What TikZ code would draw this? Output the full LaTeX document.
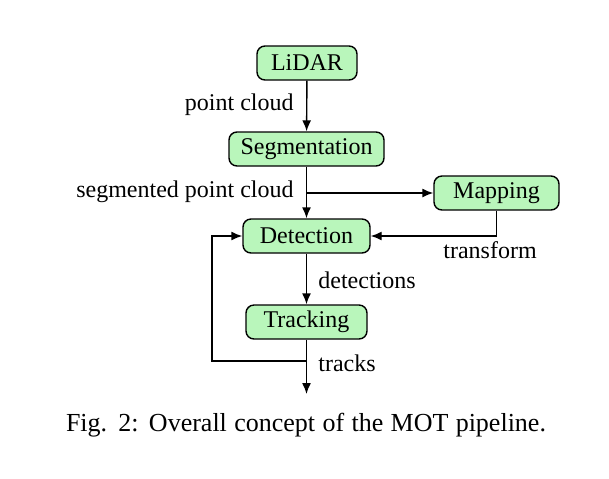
\documentclass[tikz,border=0pt]{standalone}
\usepackage{fontspec}
\setmainfont{Liberation Serif}
\usetikzlibrary{arrows.meta}
\begin{document}
\begin{tikzpicture}[x=0.5pt,y=-0.5pt,
  box/.style={draw,line width=0.7pt,fill={rgb,255:red,185;green,246;blue,187},rounded corners=4pt,
    minimum height=17pt,inner sep=0pt,font=\fontsize{12}{14}\selectfont},
  lbl/.style={font=\fontsize{12}{14}\selectfont,inner sep=0pt},
  conn/.style={line width=0.7pt,-{Latex[length=5.5pt,width=4.5pt]}},
  plain/.style={line width=0.7pt}]
\useasboundingbox (0,0) rectangle (609,478);
\node[box,minimum width=50pt] (lidar) at (307,63) {LiDAR};
\node[box,minimum width=77.5pt] (seg) at (306.5,149) {Segmentation};
\node[box,minimum width=62.5pt] (map) at (496.5,193) {Mapping};
\node[box,minimum width=63.5pt] (det) at (306.5,236) {Detection};
\node[box,minimum width=60.5pt] (trk) at (306.5,322) {Tracking};
\coordinate (branch) at (seg.south |- map.west);
\coordinate (split) at (306.5,361);
\coordinate (out) at (306.5,394);
\coordinate (fbl) at (212,361);
\coordinate (fbu) at (212,236);
\coordinate (mapdown) at (map.south |- det.east);
\draw[conn] (lidar) -- (seg);
\draw[conn] (seg) -- (det);
\draw[conn] (branch) -- (map);
\draw[conn] (map.south) -- (mapdown) -- (det.east);
\draw[conn] (det) -- (trk);
\draw[conn] (trk) -- (out);
\draw[conn] (split) -- (fbl) -- (fbu) -- (det.west);
\node[lbl,anchor=east] (l1) at (294,105) {point cloud};
\node[lbl,anchor=east] (l2) at (294,192) {segmented point cloud};
\node[lbl,anchor=west] (l3) at (443,250) {transform};
\node[lbl,anchor=west] (l4) at (318,280) {detections};
\node[lbl,anchor=west] (l5) at (318,363) {tracks};
\node[lbl,font=\fontsize{13}{15}\selectfont] (cap) at (306,425) {\makebox[240pt][s]{Fig. 2: Overall concept of the MOT pipeline.}};
\end{tikzpicture}
\end{document}
